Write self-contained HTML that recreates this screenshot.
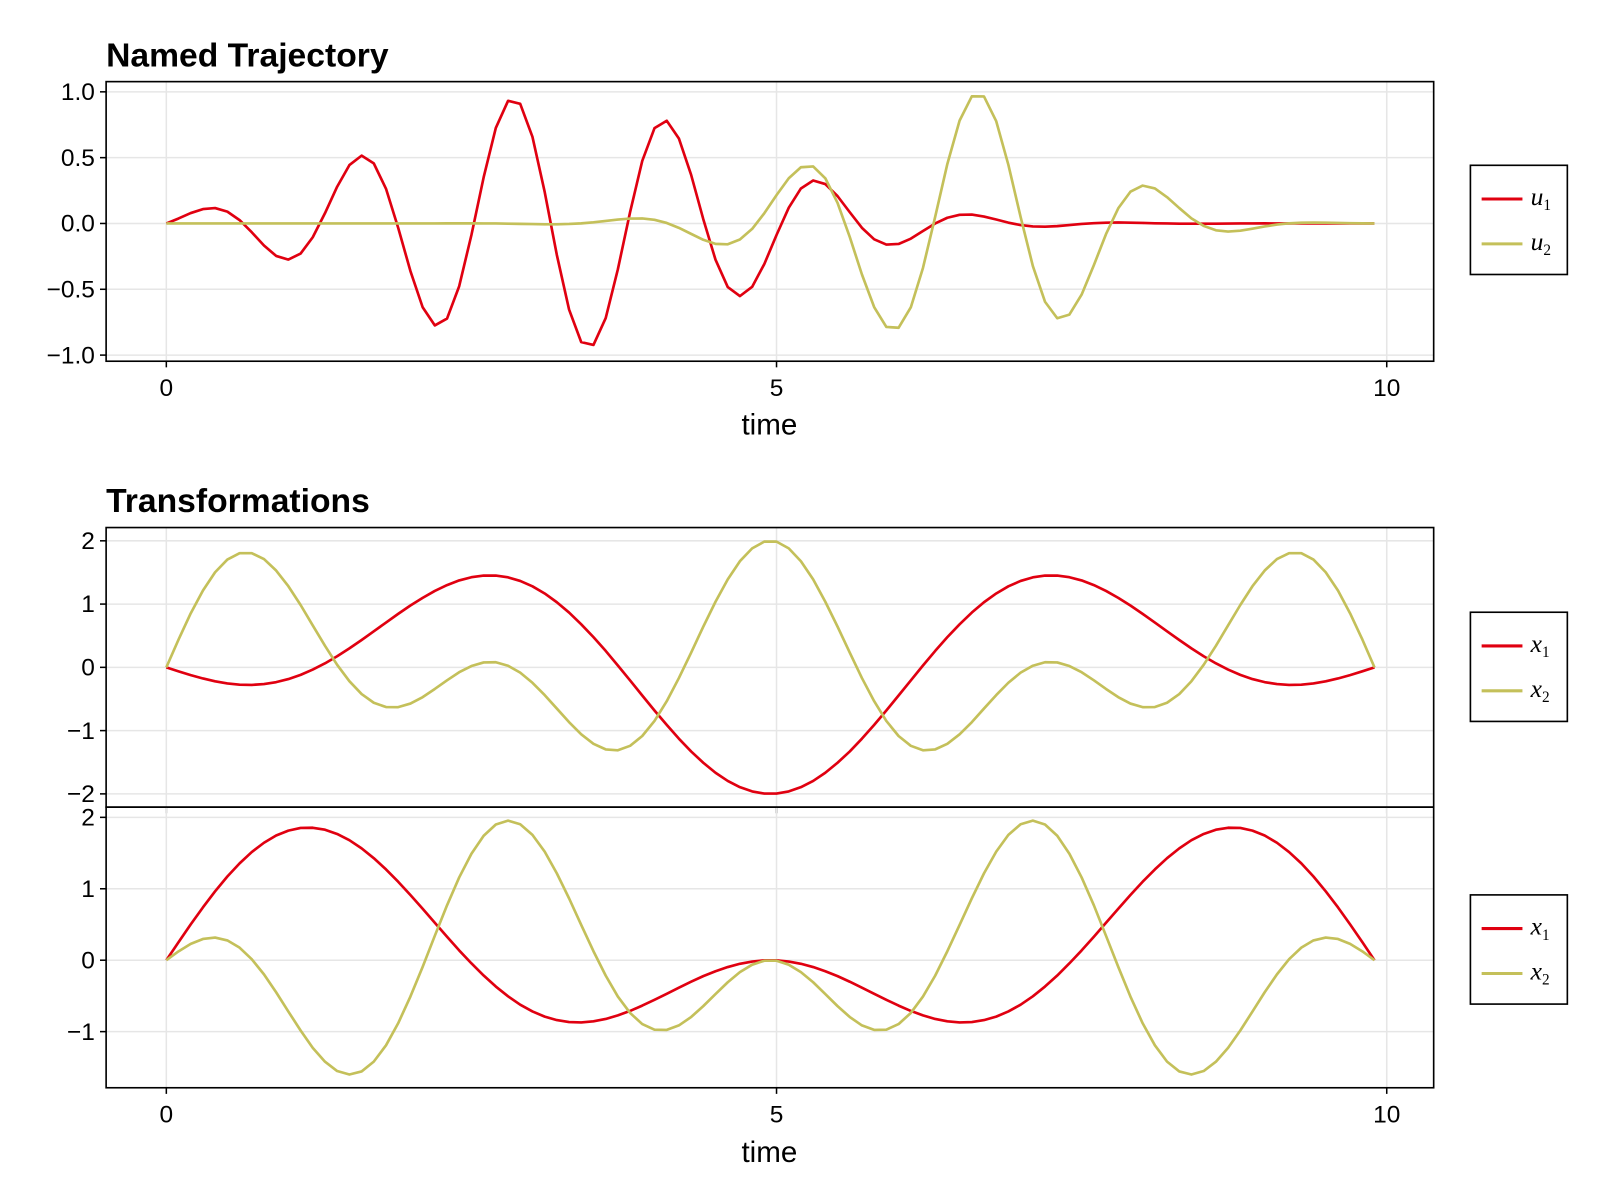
<!DOCTYPE html>
<html><head><meta charset="utf-8"><style>
body{margin:0;background:#fff;width:1600px;height:1200px;overflow:hidden}
svg{font-family:"Liberation Sans",sans-serif;display:block}
.t{font-size:24px;fill:#000}
.lg{font-family:"Liberation Serif",serif;font-style:italic;font-size:25px}
</style></head><body>
<div id="chartwrap"></div>
<script>
(function(){
var cR="#e00010",cG="#c4c05a";
function px(t){return 163+t*119.6;}
var out='';
function axes(y0,y1,ymap,ticks,fp,xlabels){
 var i,v,y;
 var xs=[0,5,10];
 for(i=0;i<3;i++){v=xs[i];out+='<line x1="'+px(v)+'" y1="'+y0+'" x2="'+px(v)+'" y2="'+y1+'" stroke="#e6e6e6" stroke-width="1.5"/>';}
 for(i=0;i<ticks.length;i++){y=ymap(ticks[i]);out+='<line x1="104" y1="'+y+'" x2="1405" y2="'+y+'" stroke="#e6e6e6" stroke-width="1.5"/>';}
 out+='<rect x="104" y="'+y0+'" width="1301" height="'+(y1-y0)+'" fill="none" stroke="#000" stroke-width="1.6"/>';
 for(i=0;i<ticks.length;i++){v=ticks[i];y=ymap(v);
  out+='<line x1="98" y1="'+y+'" x2="104" y2="'+y+'" stroke="#000" stroke-width="1.5"/>';
  var s=(v<0?'\u2212'+(-v).toFixed(fp):v.toFixed(fp));
  out+='<text class="t" x="93" y="'+(y+8)+'" text-anchor="end">'+s+'</text>';}
 for(i=0;i<3;i++){v=xs[i];out+='<line x1="'+px(v)+'" y1="'+y1+'" x2="'+px(v)+'" y2="'+(y1+6)+'" stroke="#000" stroke-width="1.5"/>';
  if(xlabels)out+='<text class="t" x="'+px(v)+'" y="'+(y1+34)+'" text-anchor="middle">'+v+'</text>';}
}
function curve(f,ymap,c){var p=[];for(var i=0;i<100;i++){var t=i/10;p.push(px(t).toFixed(1)+','+ymap(f(t)).toFixed(1));}
 out+='<polyline points="'+p.join(' ')+'" fill="none" stroke="'+c+'" stroke-width="2.6" stroke-linejoin="round"/>';}
function legend(y,n){out+='<rect x="1441" y="'+y+'" width="95" height="107" fill="#fff" stroke="#000" stroke-width="1.6"/>';
 out+='<line x1="1452" y1="'+(y+33)+'" x2="1492" y2="'+(y+33)+'" stroke="'+cR+'" stroke-width="3"/>';
 out+='<line x1="1452" y1="'+(y+77)+'" x2="1492" y2="'+(y+77)+'" stroke="'+cG+'" stroke-width="3"/>';
 out+='<text class="lg" x="1500" y="'+(y+39)+'">'+n+'<tspan font-size="15" dy="5" font-style="normal">1</tspan></text>';
 out+='<text class="lg" x="1500" y="'+(y+83)+'">'+n+'<tspan font-size="15" dy="5" font-style="normal">2</tspan></text>';}
function th(t){return Math.PI*t/9.9;}
var S=Math.sin,E=Math.exp,PI=Math.PI;
function env(t,c,l,r){var d=t-c;return E(-d*d/(d<0?l:r));}
var m1=function(v){return 219-v*129;};
axes(80,354,m1,[-1,-0.5,0,0.5,1],1,true);
curve(function(t){return 0.97*env(t,3.1,3.6,4.6)*S(2*PI*t/1.26);},m1,cR);
curve(function(t){return 0.99*env(t,6.65,2.5,1.6)*Math.cos(2*PI*(t-6.65)/1.45);},m1,cG);
legend(162,'u');
var m2=function(v){return 654-v*62;};
axes(517,791,m2,[-2,-1,0,1,2],0,false);
curve(function(t){return S(3*th(t))-S(5*th(t));},m2,cR);
curve(function(t){return S(5*th(t))+S(9*th(t));},m2,cG);
legend(600,'x');
var m3=function(v){return 941-v*70;};
axes(791,1066,m3,[-1,0,1,2],0,true);
curve(function(t){return S(3*th(t))+S(5*th(t));},m3,cR);
curve(function(t){return S(9*th(t))-S(5*th(t));},m3,cG);
legend(877,'x');
out+='<text x="104" y="65" font-size="33" font-weight="bold">Named Trajectory</text>';
out+='<text x="104" y="502" font-size="33" font-weight="bold">Transformations</text>';
out+='<text x="754" y="426" font-size="29" text-anchor="middle">time</text>';
out+='<text x="754" y="1139" font-size="29" text-anchor="middle">time</text>';
document.getElementById('chartwrap').innerHTML='<svg width="1600" height="1200" viewBox="0 0 1568 1176" xmlns="http://www.w3.org/2000/svg"><rect width="1568" height="1176" fill="#fff"/>'+out+'</svg>';
})();
</script>
</body></html>
